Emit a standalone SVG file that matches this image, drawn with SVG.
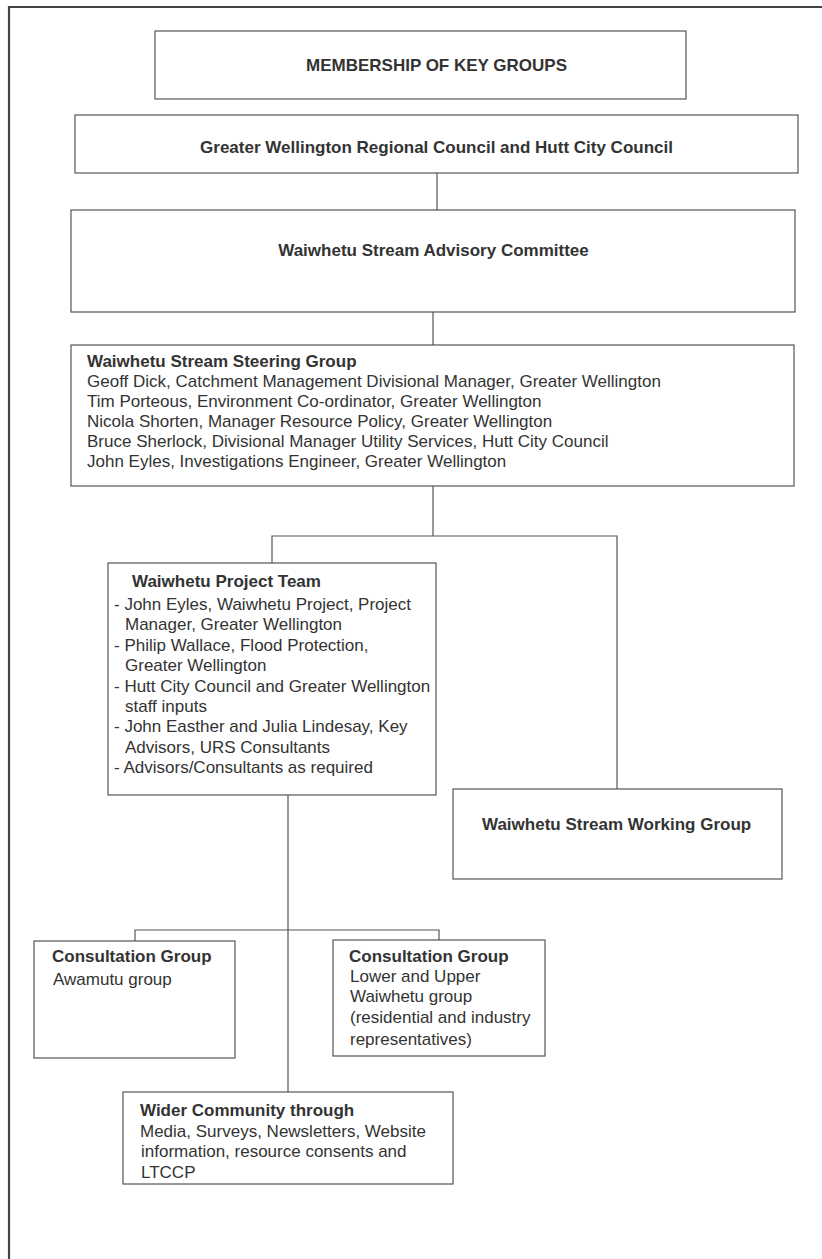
<svg xmlns="http://www.w3.org/2000/svg" width="822" height="1259" viewBox="0 0 822 1259">
<style>
.box{fill:#fff;stroke:#555;stroke-width:1.2}
.ln{stroke:#555;stroke-width:1.2;fill:none}
text{font-family:"Liberation Sans",Arial,sans-serif;font-size:17px;fill:#333}
.b{font-weight:bold}
</style>
<rect width="822" height="1259" fill="#fff"/>
<path d="M9 1259 V7 H822" fill="none" stroke="#444" stroke-width="2.2"/>
<g id="connectors">
<path class="ln" d="M437 173 V210"/>
<path class="ln" d="M433 312 V345"/>
<path class="ln" d="M433 486 V536"/>
<path class="ln" d="M272 563 V536 H617 V789"/>
<path class="ln" d="M288 795 V1092"/>
<path class="ln" d="M135 941 V930 H439 V940"/>
</g>
<g id="title">
<rect class="box" x="155" y="31" width="531" height="68"/>
<text class="b" x="306" y="71">MEMBERSHIP OF KEY GROUPS</text>
</g>
<g id="councils">
<rect class="box" x="75" y="115" width="723" height="58"/>
<text class="b" x="436.5" y="153" text-anchor="middle">Greater Wellington Regional Council and Hutt City Council</text>
</g>
<g id="advisory">
<rect class="box" x="71" y="210" width="724" height="102"/>
<text class="b" x="433.5" y="256" text-anchor="middle">Waiwhetu Stream Advisory Committee</text>
</g>
<g id="steering">
<rect class="box" x="71" y="345" width="723" height="141"/>
<text class="b" x="87" y="367">Waiwhetu Stream Steering Group</text>
<text x="87" y="387">Geoff Dick, Catchment Management Divisional Manager, Greater Wellington</text>
<text x="87" y="407">Tim Porteous, Environment Co-ordinator, Greater Wellington</text>
<text x="87" y="427">Nicola Shorten, Manager Resource Policy, Greater Wellington</text>
<text x="87" y="447">Bruce Sherlock, Divisional Manager Utility Services, Hutt City Council</text>
<text x="87" y="467">John Eyles, Investigations Engineer, Greater Wellington</text>
</g>
<g id="project-team">
<rect class="box" x="108" y="563" width="328" height="232"/>
<text class="b" x="132" y="587">Waiwhetu Project Team</text>
<text x="114" y="610">- John Eyles, Waiwhetu Project, Project</text>
<text x="125" y="630.4">Manager, Greater Wellington</text>
<text x="114" y="650.8">- Philip Wallace, Flood Protection,</text>
<text x="125" y="671.2">Greater Wellington</text>
<text x="114" y="691.6">- Hutt City Council and Greater Wellington</text>
<text x="125" y="712">staff inputs</text>
<text x="114" y="732.4">- John Easther and Julia Lindesay, Key</text>
<text x="125" y="752.8">Advisors, URS Consultants</text>
<text x="114" y="773.2">- Advisors/Consultants as required</text>
</g>
<g id="working-group">
<rect class="box" x="453" y="789" width="329" height="90"/>
<text class="b" x="482" y="830">Waiwhetu Stream Working Group</text>
</g>
<g id="consult-awamutu">
<rect class="box" x="34" y="941" width="201" height="117"/>
<text class="b" x="52" y="962">Consultation Group</text>
<text x="53" y="985">Awamutu group</text>
</g>
<g id="consult-waiwhetu">
<rect class="box" x="333" y="940" width="212" height="116"/>
<text class="b" x="349" y="962">Consultation Group</text>
<text x="350" y="982">Lower and Upper</text>
<text x="350" y="1002">Waiwhetu group</text>
<text x="350" y="1023">(residential and industry</text>
<text x="350" y="1045">representatives)</text>
</g>
<g id="wider-community">
<rect class="box" x="123" y="1092" width="330" height="92"/>
<text class="b" x="140" y="1116">Wider Community through</text>
<text x="140" y="1137">Media, Surveys, Newsletters, Website</text>
<text x="141" y="1157">information, resource consents and</text>
<text x="141" y="1178">LTCCP</text>
</g>
</svg>
